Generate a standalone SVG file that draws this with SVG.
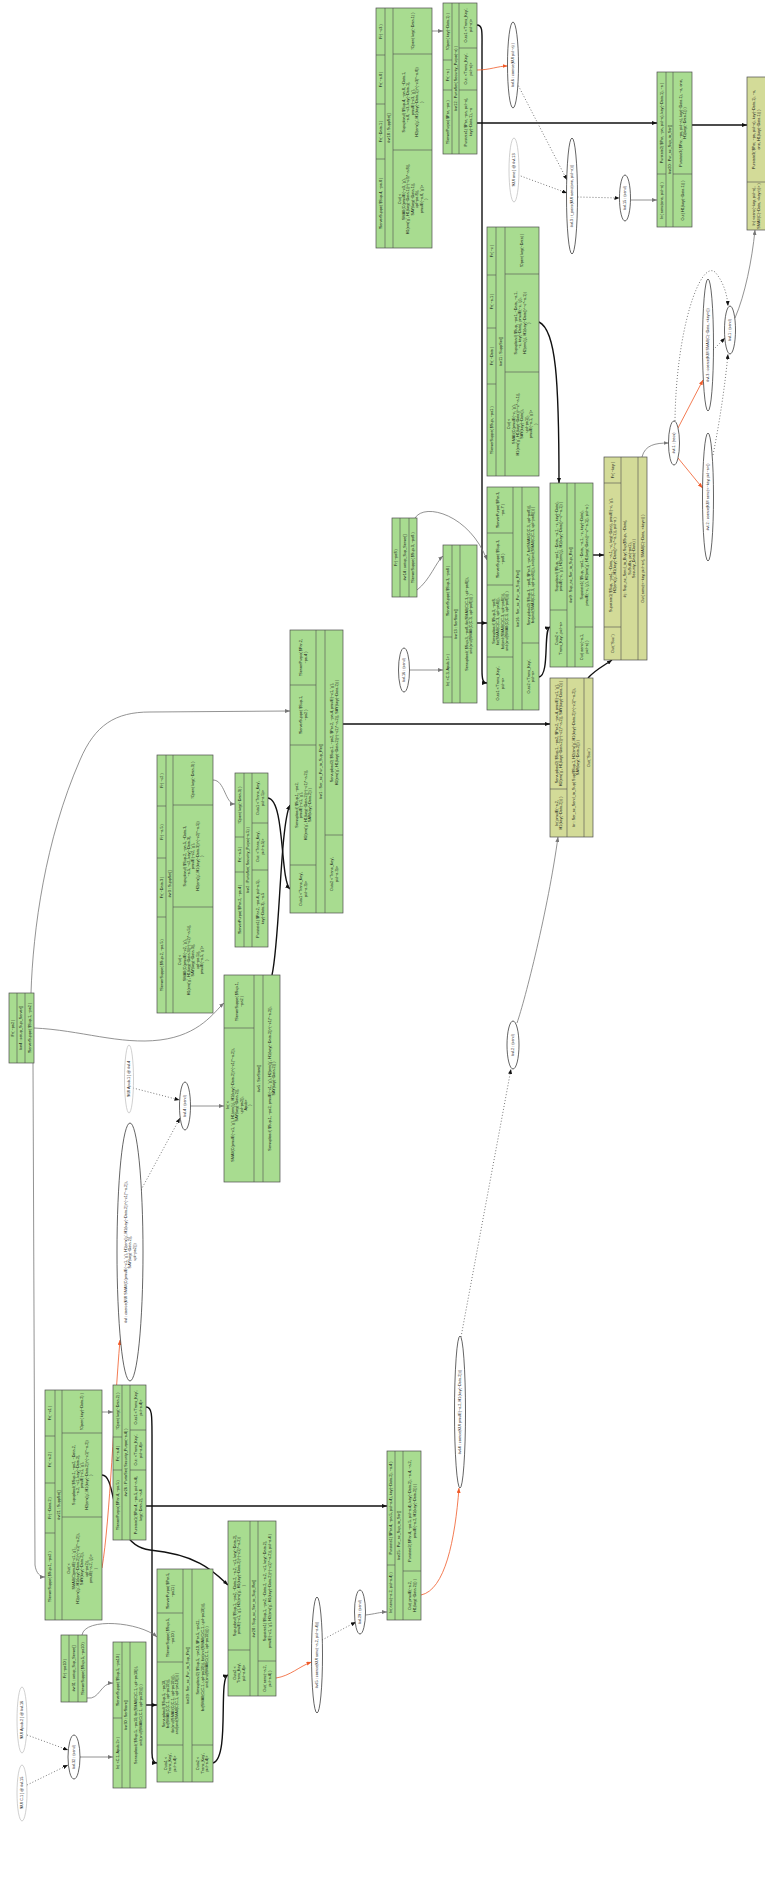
<svg xmlns="http://www.w3.org/2000/svg" width="765" height="1883" viewBox="0 0 765 1883">
<style>
.g{fill:#a8dc90;stroke:#4d4d4d;stroke-width:0.7}
.y{fill:#d3db98;stroke:#4d4d4d;stroke-width:0.7}
.d{fill:none;stroke:#4d4d4d;stroke-width:0.6}
text{font-family:"Liberation Sans","DejaVu Sans",sans-serif;font-size:3.8px;fill:#111;text-anchor:middle}
.el{fill:#fff;stroke:#222;stroke-width:0.7}
.kl{fill:#fff;stroke:#bbb;stroke-width:0.7}
.eb{fill:none;stroke:#111;stroke-width:1.4;marker-end:url(#ab)}
.eg{fill:none;stroke:#777;stroke-width:0.8;marker-end:url(#ag)}
.er{fill:none;stroke:#f05a28;stroke-width:0.8;marker-end:url(#ar)}
.ed{fill:none;stroke:#555;stroke-width:0.8;stroke-dasharray:1 2;marker-end:url(#ab)}
</style>
<defs>
<marker id="ab" viewBox="0 0 10 8" refX="10" refY="4" markerWidth="5" markerHeight="4" orient="auto" markerUnits="userSpaceOnUse"><path d="M0 0L10 4L0 8z" fill="#111"/></marker>
<marker id="ag" viewBox="0 0 10 8" refX="10" refY="4" markerWidth="5" markerHeight="4" orient="auto" markerUnits="userSpaceOnUse"><path d="M0 0L10 4L0 8z" fill="#777"/></marker>
<marker id="ar" viewBox="0 0 10 8" refX="10" refY="4" markerWidth="5" markerHeight="4" orient="auto" markerUnits="userSpaceOnUse"><path d="M0 0L10 4L0 8z" fill="#f05a28"/></marker>
</defs>
<rect width="765" height="1883" fill="#fff"/>

<g id="edges">
<path class="eb" d="M477 123L657 123"/>
<path class="eb" d="M692 125L747 125"/>
<path class="eb" d="M477 25C483 25 482 33 482 48L482 670C482 680 483 683 487 683"/>
<path class="eb" d="M539 322C556 330 559 380 559 483"/>
<path class="eb" d="M477 623L487 623"/>
<path class="eb" d="M539 677C550 675 543 629 550 627"/>
<path class="eb" d="M593 555L604 555"/>
<path class="eb" d="M588 678C595 670 605 665 612 660"/>
<path class="eb" d="M343 724L550 724"/>
<path class="eb" d="M268 798C285 800 280 880 290 889"/>
<path class="eb" d="M272 975C280 940 280 825 290 805"/>
<path class="eb" d="M146 1506L387 1506"/>
<path class="eb" d="M146 1407C152 1407 152 1415 152 1435L152 1753C152 1760 154 1763 157 1763"/>
<path class="eb" d="M102 1475C118 1475 108 1545 150 1550C200 1555 215 1573 228 1585"/>
<path class="eb" d="M146 1705L157 1705"/>
<path class="eb" d="M213 1763C230 1758 218 1678 228 1675"/>
<path class="eg" d="M432 31L443 31"/>
<path class="eg" d="M631 200L657 200"/>
<path class="eg" d="M415 518C425 502 470 515 487 560"/>
<path class="eg" d="M417 590C430 580 436 562 443 556"/>
<path class="eg" d="M409.5 670L443 670"/>
<path class="eg" d="M642 457C645 445 655 443 668.5 443"/>
<path class="eg" d="M735 318C745 295 752 260 755 230"/>
<path class="eg" d="M213 780C225 780 225 804 235 804"/>
<path class="eg" d="M31 993C33 930 45 840 80 760C95 725 115 712 150 712L290 711"/>
<path class="eg" d="M34 1028C80 1030 120 1045 160 1040C200 1035 214 1012 224 1003"/>
<path class="eg" d="M33 1063L35 1565C36 1573 40 1577 45 1577"/>
<path class="eg" d="M190.5 1106L224 1106"/>
<path class="eg" d="M102 1412L113 1412"/>
<path class="eg" d="M82 1635C85 1617 140 1622 157 1637"/>
<path class="eg" d="M87 1698C100 1700 100 1683 113 1683"/>
<path class="eg" d="M80 1757L113 1757"/>
<path class="eg" d="M365.5 1615C375 1614 380 1612 387 1612"/>
<path class="eg" d="M517 1023C525 1000 548 910 558 837"/>
<path class="er" d="M477 70C490 70 498 66 507.5 66"/>
<path class="er" d="M678 428L703 380"/>
<path class="er" d="M678 458L702.5 488"/>
<path class="er" d="M102 1568C110 1520 114 1410 120 1340"/>
<path class="er" d="M276 1678C290 1676 300 1666 311.5 1662"/>
<path class="er" d="M421 1595C445 1590 455 1540 459 1488"/>
<path class="ed" d="M517 83L567 180"/>
<path class="ed" d="M518 175L567 193"/>
<path class="ed" d="M577.5 197L619.5 198"/>
<path class="ed" d="M713 350L725 338"/>
<path class="ed" d="M713 455C720 420 725 385 728 354"/>
<path class="ed" d="M675 421C676 330 700 260 715 272C722 280 727 292 728 306"/>
<path class="ed" d="M141 1190L180 1118"/>
<path class="ed" d="M133 1088L179.5 1100"/>
<path class="ed" d="M27 1735L68 1750"/>
<path class="ed" d="M27 1785L68 1765"/>
<path class="ed" d="M322 1640L356 1622"/>
<path class="ed" d="M461 1337L511 1069"/>
</g>

<g id="vr18">
<rect class="g" x="376" y="8" width="56" height="240"/>
<path class="d" d="M385 8V248M393 8V248M376 55H385M376 104H385M376 159H385M393 54H432M393 150H432"/>
<text transform="translate(380.5 31.5) rotate(-90)" y="1.3">Fr( ~c3 )</text>
<text transform="translate(380.5 79.5) rotate(-90)" y="1.3">Fr( ~a.8 )</text>
<text transform="translate(380.5 131.5) rotate(-90)" y="1.3">Fr( ~Data.1 )</text>
<text transform="translate(380.5 203.5) rotate(-90)" y="1.3">!ServerSuppe( $Sup.4, ~pa.8 )</text>
<text transform="translate(389 128) rotate(-90)" y="1.3">#vr18 : SuppSet[]</text>
<text transform="translate(412.5 31) rotate(-90)" y="1.3">!Open( key(~Data.1) )</text>
<text transform="translate(412.5 102) rotate(-90)"><tspan x="0" y="-7.5">Supupload( $Sup.4, ~pa.8, ~Data.1,</tspan><tspan x="0" y="-3.1">~a.8, ~c3, key(~Data.1),</tspan><tspan x="0" y="1.3">pmulE(~c3, 'g'),</tspan><tspan x="0" y="5.7">H2(em('g', H1(key(~Data.1))^(~c3)*~a.8))</tspan><tspan x="0" y="10.1">)</tspan></text>
<text transform="translate(412.5 199) rotate(-90)"><tspan x="0" y="-11.9">Out( &lt;</tspan><tspan x="0" y="-7.5">SMAII(C(pmulE(~c3, 'g'),</tspan><tspan x="0" y="-3.1">H1(em('g', H1(key(~Data.1))^(~c3)*~a.8)),</tspan><tspan x="0" y="1.3">SAY(key(~Data.1)),</tspan><tspan x="0" y="5.7">upl~pa.8)),</tspan><tspan x="0" y="10.1">pmulE(~a.8, 'g')&gt;</tspan><tspan x="0" y="14.5">)</tspan></text>
</g>

<g id="vr12">
<rect class="g" x="443" y="3" width="34" height="151"/>
<path class="d" d="M452 3V154M459 3V154M443 60H452M443 90H452M459 48H477M459 90H477"/>
<text transform="translate(447.5 31.5) rotate(-90)" y="1.3">!Open( key(~Data.1) )</text>
<text transform="translate(447.5 75) rotate(-90)" y="1.3">Fr( ~a )</text>
<text transform="translate(447.5 122) rotate(-90)" y="1.3">!ServerPurpo( $Par, ~pa )</text>
<text transform="translate(455.5 78.5) rotate(-90)" y="1.3">#vr12 : PurtoSet( Security_Purpo(~a) )</text>
<text transform="translate(468 25.5) rotate(-90)"><tspan x="0" y="-0.9">Outs1 &lt;'Trans_Key',</tspan><tspan x="0" y="3.5">pid~a)&gt;</tspan></text>
<text transform="translate(468 69) rotate(-90)"><tspan x="0" y="-0.9">Out: &lt;'Trans_Key',</tspan><tspan x="0" y="3.5">pid~a)&gt;</tspan></text>
<text transform="translate(468 122) rotate(-90)"><tspan x="0" y="-0.9">Purstate1( $Par, ~pa, pid~a),</tspan><tspan x="0" y="3.5">key(~Data.1), ~a</tspan></text>
</g>

<g id="vl6"><ellipse class="el" cx="513" cy="65" rx="5.5" ry="43"/><text transform="translate(513 65) rotate(-90)" y="1.3">#vl.6 : coerce(KUI pid~a) )</text></g>
<g id="kl13"><ellipse class="kl" cx="514" cy="170" rx="5" ry="32"/><text transform="translate(514 170) rotate(-90)" y="1.3">!KUI one ] @ #vl.13</text></g>
<g id="vl3"><ellipse class="el" cx="572" cy="196" rx="5.5" ry="58"/><text transform="translate(572 196) rotate(-90)" y="1.3">#vl.3 : t_pairs(KUI aenc(one, pid~a)))</text></g>
<g id="vl15"><ellipse class="el" cx="625" cy="198" rx="5.5" ry="23"/><text transform="translate(625 198) rotate(-90)" y="1.3">#vl.15 : (send)</text></g>

<g id="vr20">
<rect class="g" x="657" y="72" width="35" height="155"/>
<path class="d" d="M666 72V227M673 72V227M657 174H666M673 174H692"/>
<text transform="translate(661.5 123) rotate(-90)" y="1.3">Purstate2( $Par, ~pa, pid~a), key(~Data.1), ~a )</text>
<text transform="translate(661.5 200.5) rotate(-90)" y="1.3">In( aenc(one, pid~a) )</text>
<text transform="translate(669.5 149.5) rotate(-90)" y="1.3">#vr20 : Pur_ac_Sup_to_Ser[]</text>
<text transform="translate(682.5 123) rotate(-90)"><tspan x="0" y="-0.9">Purstate3( $Par, ~pa, pid~a), key(~Data.1), ~a, one,</tspan><tspan x="0" y="3.5">H1(key(~Data.1)) )</tspan></text>
<text transform="translate(682.5 200.5) rotate(-90)" y="1.3">Out( H1(key(~Data.1)) )</text>
</g>

<g id="vrD">
<rect class="y" x="747" y="77" width="30" height="153"/>
<path class="d" d="M747 182H765"/>
<text transform="translate(756 129.5) rotate(-90)"><tspan x="0" y="-0.9">Purstate3( $Par, ~pa, pid~a), key(~Data.1), ~a,</tspan><tspan x="0" y="3.5">one, H1(key(~Data.1)) )</tspan></text>
<text transform="translate(756 206) rotate(-90)"><tspan x="0" y="-0.9">In( &lt;aenc(~key, pid~a),</tspan><tspan x="0" y="3.5">SMAII(C(~Data, &lt;key&gt;))&gt; )</tspan></text>
</g>

<g id="vr11">
<rect class="g" x="487" y="227" width="52" height="249"/>
<path class="d" d="M496 227V476M505 227V476M487 275H496M487 328H496M487 384H496M505 274H539M505 372H539"/>
<text transform="translate(491.5 251) rotate(-90)" y="1.3">Fr( ~c )</text>
<text transform="translate(491.5 301.5) rotate(-90)" y="1.3">Fr( ~a.1 )</text>
<text transform="translate(491.5 356) rotate(-90)" y="1.3">Fr( ~Data )</text>
<text transform="translate(491.5 430) rotate(-90)" y="1.3">!ServerSuppe( $Sup, ~pa1 )</text>
<text transform="translate(500.5 351.5) rotate(-90)" y="1.3">#vr11 : SuppSet[]</text>
<text transform="translate(522 250.5) rotate(-90)" y="1.3">!Open( key(~Data) )</text>
<text transform="translate(522 323) rotate(-90)"><tspan x="0" y="-5.3">Supupload( $Sup, ~pa1, ~Data, ~a.1,</tspan><tspan x="0" y="-0.9">~c, key(~Data), pmulE(~c, 'g'),</tspan><tspan x="0" y="3.5">H2(em('g', H1(key(~Data))^~c*~a.1))</tspan><tspan x="0" y="7.9">)</tspan></text>
<text transform="translate(522 424) rotate(-90)"><tspan x="0" y="-11.9">Out( &lt;</tspan><tspan x="0" y="-7.5">SMAII(C(pmulE(~c, 'g'),</tspan><tspan x="0" y="-3.1">H1(em('g', H1(key(~Data))^~c*~a.1)),</tspan><tspan x="0" y="1.3">SAY(key(~Data)),</tspan><tspan x="0" y="5.7">upl~pa1)),</tspan><tspan x="0" y="10.1">pmulE(~a.1, 'g')&gt;</tspan><tspan x="0" y="14.5">)</tspan></text>
</g>

<g id="vr14">
<rect class="g" x="392" y="518" width="25" height="79"/>
<path class="d" d="M400 518V597M409 518V597"/>
<text transform="translate(396 557.5) rotate(-90)" y="1.3">Fr( ~pa8 )</text>
<text transform="translate(404.5 557.5) rotate(-90)" y="1.3">#vr14 : setup_Sup_Server[]</text>
<text transform="translate(413 557.5) rotate(-90)" y="1.3">!ServerSuppe( $Sup.3, ~pa8 )</text>
</g>

<g id="vr13">
<rect class="g" x="443" y="545" width="34" height="158"/>
<path class="d" d="M452 545V703M460 545V703M443 637H452"/>
<text transform="translate(447.5 591) rotate(-90)" y="1.3">!ServerSuppe( $Sup.3, ~pa8 )</text>
<text transform="translate(447.5 670) rotate(-90)" y="1.3">In( &lt;C.3, Apub.1&gt; )</text>
<text transform="translate(456 624) rotate(-90)" y="1.3">#vr13 : SerStore[]</text>
<text transform="translate(468.5 624) rotate(-90)"><tspan x="0" y="-0.9">Servupload( $Sup.3, ~pa8, fst(SMAII(C(C.3, upl~pa8))),</tspan><tspan x="0" y="3.5">snd(snd(SMAII(C(C.3, upl~pa8)))) )</tspan></text>
</g>

<g id="vl16"><ellipse class="el" cx="404" cy="670" rx="5.5" ry="22"/><text transform="translate(404 670) rotate(-90)" y="1.3">#vl.16 : (send)</text></g>

<g id="vr16">
<rect class="g" x="487" y="487" width="52" height="223"/>
<path class="d" d="M513 487V710M522 487V710M487 533H513M487 585H513M487 657H513M522 643H539"/>
<text transform="translate(500 510) rotate(-90)"><tspan x="0" y="-0.9">!ServerPurpo( $Par.3,</tspan><tspan x="0" y="3.5">~pa.7 )</tspan></text>
<text transform="translate(500 559) rotate(-90)"><tspan x="0" y="-0.9">!ServerSuppe( $Sup.3,</tspan><tspan x="0" y="3.5">~pa8 )</tspan></text>
<text transform="translate(500 621) rotate(-90)"><tspan x="0" y="-5.3">Servupload( $Sup.3, ~pa8,</tspan><tspan x="0" y="-0.9">fst(SMAII(C(C.3, upl~pa8))),</tspan><tspan x="0" y="3.5">fst(snd(SMAII(C(C.3, upl~pa8)))),</tspan><tspan x="0" y="7.9">snd(snd(SMAII(C(C.3, upl~pa8)))) )</tspan></text>
<text transform="translate(500 683.5) rotate(-90)"><tspan x="0" y="-0.9">Outs1 &lt;'Trans_Key',</tspan><tspan x="0" y="3.5">pid~a&gt;</tspan></text>
<text transform="translate(517.5 598.5) rotate(-90)" y="1.3">#vr16 : Ser_ac_Pur_to_Sup_Ret[]</text>
<text transform="translate(530.5 565) rotate(-90)"><tspan x="0" y="-0.9">Servupload2( $Sup.3, ~pa8, $Par.3, ~pa.7, fst(SMAII(C(C.3, upl~pa8))),</tspan><tspan x="0" y="3.5">fst(snd(SMAII(C(C.3, upl~pa8)))), snd(snd(SMAII(C(C.3, upl~pa8)))) )</tspan></text>
<text transform="translate(530.5 676.5) rotate(-90)"><tspan x="0" y="-0.9">Outs2 &lt;'Trans_Key',</tspan><tspan x="0" y="3.5">pid~a&gt;</tspan></text>
</g>

<g id="vr9">
<rect class="g" x="550" y="483" width="43" height="184"/>
<path class="d" d="M567 483V667M575 483V667M550 610H567M575 627H593"/>
<text transform="translate(558.5 546.5) rotate(-90)"><tspan x="0" y="-0.9">Supupload( $Sup, ~pa1, ~Data, ~a.1, ~c, key(~Data),</tspan><tspan x="0" y="3.5">pmulE(~c, 'g'), H2(em('g', H1(key(~Data))^~c*~a.1)) )</tspan></text>
<text transform="translate(558.5 638.5) rotate(-90)"><tspan x="0" y="-0.9">Outs2 &lt;</tspan><tspan x="0" y="3.5">'Trans_Key', pid~a&gt;</tspan></text>
<text transform="translate(571 575) rotate(-90)" y="1.3">#vr9 : Sup_ac_Ser_to_Sup_Ret[]</text>
<text transform="translate(584 555) rotate(-90)"><tspan x="0" y="-0.9">Supstate1( $Sup, ~pa1, ~Data, ~a.1, ~c, key(~Data),</tspan><tspan x="0" y="3.5">pmulE(~c, 'g'), H2(em('g', H1(key(~Data))^~c*~a.1)), pid~a )</tspan></text>
<text transform="translate(584 647) rotate(-90)"><tspan x="0" y="-0.9">Out( aenc(~a.1,</tspan><tspan x="0" y="3.5">pid~a) )</tspan></text>
</g>

<g id="vrY1">
<rect class="y" x="604" y="457" width="43" height="203"/>
<path class="d" d="M621 457V660M638 457V660M604 483H621M604 627H621"/>
<text transform="translate(612.5 470) rotate(-90)" y="1.3">Fr( ~key )</text>
<text transform="translate(612.5 555) rotate(-90)"><tspan x="0" y="-0.9">Supstate1( $Sup, ~pa1, ~Data, ~a.1, ~c, key(~Data), pmulE(~c, 'g'),</tspan><tspan x="0" y="3.5">H2(em('g', H1(key(~Data))^~c*~a.1)), pid~a )</tspan></text>
<text transform="translate(612.5 643.5) rotate(-90)" y="1.3">Out( 'Suc' )</text>
<text transform="translate(629.5 558.5) rotate(-90)"><tspan x="0" y="-3.1">#j : Sup_ac_Send_to_Buy( Sup($Sup, ~Data),</tspan><tspan x="0" y="1.3">SuSuffix, pa(~pa1),</tspan><tspan x="0" y="5.7">Security_Data(~Data) )</tspan></text>
<text transform="translate(642.5 558.5) rotate(-90)" y="1.3">Out( aenc(&lt;~key, pid~a&gt;), SMAII(C(~Data, &lt;key&gt;)) )</text>
</g>

<g id="vrY2">
<rect class="y" x="550" y="678" width="43" height="159"/>
<path class="d" d="M567 678V837M584 678V837M550 789H567"/>
<text transform="translate(558.5 733.5) rotate(-90)"><tspan x="0" y="-0.9">Servupload2( $Sup.1, ~pa2, $Par.2, ~pa.4, pmulE(~c1, 'g'),</tspan><tspan x="0" y="3.5">H2(em('g', H1(key(~Data.2))^(~c1)*~a.2)), SAY(key(~Data.2)) )</tspan></text>
<text transform="translate(558.5 813) rotate(-90)"><tspan x="0" y="-0.9">In( pmulE(~a.2,</tspan><tspan x="0" y="3.5">H1(key(~Data.2))) )</tspan></text>
<text transform="translate(575.5 757.5) rotate(-90)"><tspan x="0" y="-0.9">#r : Ser_ac_Send_to_Sup( Sup($Sup.1, H2(em('g', H1(key(~Data.2))^(~c1)*~a.2)),</tspan><tspan x="0" y="3.5">SAY(key(~Data.2))) )</tspan></text>
<text transform="translate(588.5 757.5) rotate(-90)" y="1.3">Out( 'Suc' )</text>
</g>

<g id="vl1r"><ellipse class="el" cx="674" cy="443" rx="5.5" ry="22"/><text transform="translate(674 443) rotate(-90)" y="1.3">#vl.1 : (recv)</text></g>
<g id="vl3b"><ellipse class="el" cx="708" cy="345" rx="5.5" ry="66"/><text transform="translate(708 345) rotate(-90)" y="1.3">#vl.3 : coerce(KUI SMAII(C(~Data, &lt;key&gt;)))</text></g>
<g id="vl2b"><ellipse class="el" cx="708" cy="497" rx="5.5" ry="64"/><text transform="translate(708 497) rotate(-90)" y="1.3">#vl.2 : coerce(KUI aenc(&lt;~key, pid~a&gt;))</text></g>
<g id="vl1s"><ellipse class="el" cx="730" cy="330" rx="5.5" ry="24"/><text transform="translate(730 330) rotate(-90)" y="1.3">#vl.1 : (send)</text></g>

<g id="vr3">
<rect class="g" x="157" y="755" width="56" height="258"/>
<path class="d" d="M166 755V1013M173 755V1013M157 806H166M157 858H166M157 917H166M173 805H213M173 907H213"/>
<text transform="translate(161.5 780.5) rotate(-90)" y="1.3">Fr( ~c2 )</text>
<text transform="translate(161.5 832) rotate(-90)" y="1.3">Fr( ~a.5 )</text>
<text transform="translate(161.5 887.5) rotate(-90)" y="1.3">Fr( ~Data.3 )</text>
<text transform="translate(161.5 965) rotate(-90)" y="1.3">!ServerSuppe( $Sup.2, ~pa.5 )</text>
<text transform="translate(169.5 884) rotate(-90)" y="1.3">#vr3 : SuppSet[]</text>
<text transform="translate(193 780) rotate(-90)" y="1.3">!Open( key(~Data.3) )</text>
<text transform="translate(193 856) rotate(-90)"><tspan x="0" y="-7.5">Supupload( $Sup.2, ~pa.5, ~Data.3,</tspan><tspan x="0" y="-3.1">~a.5, ~c2, key(~Data.3),</tspan><tspan x="0" y="1.3">pmulE(~c2, 'g'),</tspan><tspan x="0" y="5.7">H2(em('g', H1(key(~Data.3))^(~c2)*~a.5))</tspan><tspan x="0" y="10.1">)</tspan></text>
<text transform="translate(193 960) rotate(-90)"><tspan x="0" y="-11.9">Out( &lt;</tspan><tspan x="0" y="-7.5">SMAII(C(pmulE(~c2, 'g'),</tspan><tspan x="0" y="-3.1">H1(em('g', H1(key(~Data.3))^(~c2)*~a.5)),</tspan><tspan x="0" y="1.3">SAY(key(~Data.3)),</tspan><tspan x="0" y="5.7">upl~pa.5)),</tspan><tspan x="0" y="10.1">pmulE(~a.5, 'g')&gt;</tspan><tspan x="0" y="14.5">)</tspan></text>
</g>

<g id="vr2">
<rect class="g" x="235" y="773" width="33" height="174"/>
<path class="d" d="M244 773V947M252 773V947M235 837H244M235 872H244M252 823H268M252 870H268"/>
<text transform="translate(239.5 805) rotate(-90)" y="1.3">!Open( key(~Data.3) )</text>
<text transform="translate(239.5 854.5) rotate(-90)" y="1.3">Fr( ~a.5 )</text>
<text transform="translate(239.5 909.5) rotate(-90)" y="1.3">!ServerPurpo( $Par.2, ~pa.4 )</text>
<text transform="translate(248 860) rotate(-90)" y="1.3">#vr2 : PurtoSet( Security_Purpo(~a.5) )</text>
<text transform="translate(260 798) rotate(-90)"><tspan x="0" y="-0.9">Outs1 &lt;'Trans_Key',</tspan><tspan x="0" y="3.5">pid~a.5)&gt;</tspan></text>
<text transform="translate(260 846.5) rotate(-90)"><tspan x="0" y="-0.9">Out: &lt;'Trans_Key',</tspan><tspan x="0" y="3.5">pid~a.5)&gt;</tspan></text>
<text transform="translate(260 908.5) rotate(-90)"><tspan x="0" y="-0.9">Purstate1( $Par.2, ~pa.4, pid~a.5),</tspan><tspan x="0" y="3.5">key(~Data.3), ~a.5</tspan></text>
</g>

<g id="vr1">
<rect class="g" x="290" y="630" width="53" height="283"/>
<path class="d" d="M316 630V913M325 630V913M290 685H316M290 745H316M290 865H316M325 835H343"/>
<text transform="translate(303 657.5) rotate(-90)"><tspan x="0" y="-0.9">!ServerPurpo( $Par.2,</tspan><tspan x="0" y="3.5">~pa.4 )</tspan></text>
<text transform="translate(303 715) rotate(-90)"><tspan x="0" y="-0.9">!ServerSuppe( $Sup.1,</tspan><tspan x="0" y="3.5">~pa2 )</tspan></text>
<text transform="translate(303 805) rotate(-90)"><tspan x="0" y="-5.3">Servupload( $Sup.1, ~pa2,</tspan><tspan x="0" y="-0.9">pmulE(~c1, 'g'),</tspan><tspan x="0" y="3.5">H2(em('g', H1(key(~Data.2))^(~c1)*~a.2)),</tspan><tspan x="0" y="7.9">SAY(key(~Data.2)) )</tspan></text>
<text transform="translate(303 889) rotate(-90)"><tspan x="0" y="-0.9">Outs1 &lt;'Trans_Key',</tspan><tspan x="0" y="3.5">pid~a.3)&gt;</tspan></text>
<text transform="translate(320.5 771.5) rotate(-90)" y="1.3">#vr1 : Ser_ac_Pur_to_Sup_Ret[]</text>
<text transform="translate(334 732.5) rotate(-90)"><tspan x="0" y="-0.9">Servupload2( $Sup.1, ~pa2, $Par.2, ~pa.4, pmulE(~c1, 'g'),</tspan><tspan x="0" y="3.5">H2(em('g', H1(key(~Data.2))^(~c1)*~a.2)), SAY(key(~Data.2)) )</tspan></text>
<text transform="translate(334 874) rotate(-90)"><tspan x="0" y="-0.9">Outs2 &lt;'Trans_Key',</tspan><tspan x="0" y="3.5">pid~a.3)&gt;</tspan></text>
</g>

<g id="vr4">
<rect class="g" x="9" y="993" width="25" height="70"/>
<path class="d" d="M17 993V1063M25 993V1063"/>
<text transform="translate(13 1028) rotate(-90)" y="1.3">Fr( ~pa2 )</text>
<text transform="translate(21 1028) rotate(-90)" y="1.3">#vr4 : setup_Sup_Server[]</text>
<text transform="translate(29.5 1028) rotate(-90)" y="1.3">!ServerSuppe( $Sup.1, ~pa2 )</text>
</g>

<g id="klapub"><ellipse class="kl" cx="129" cy="1079" rx="4.5" ry="34"/><text transform="translate(129 1079) rotate(-90)" y="1.3">!KUI Apub.1 ] @ #vl.4</text></g>
<g id="vlbig"><ellipse class="el" cx="130" cy="1252" rx="13" ry="129"/><text transform="translate(130 1252) rotate(-90)"><tspan x="0" y="-3.1">#vl : coerce(KUI SMAII(C(pmulE(~c1, 'g'), H1(em('g', H1(key(~Data.2))^(~c1)*~a.2)),</tspan><tspan x="0" y="1.3">SAY(key(~Data.2)),</tspan><tspan x="0" y="5.7">upl~pa2)))</tspan></text></g>
<g id="vl4"><ellipse class="el" cx="185" cy="1106" rx="5.5" ry="24"/><text transform="translate(185 1106) rotate(-90)" y="1.3">#vl.4 : (send)</text></g>

<g id="vr5">
<rect class="g" x="224" y="975" width="56" height="207"/>
<path class="d" d="M254 975V1182M263 975V1182M224 1028H254"/>
<text transform="translate(239 1001.5) rotate(-90)"><tspan x="0" y="-0.9">!ServerSuppe( $Sup.1,</tspan><tspan x="0" y="3.5">~pa2 )</tspan></text>
<text transform="translate(239 1105) rotate(-90)"><tspan x="0" y="-9.7">In( &lt;</tspan><tspan x="0" y="-5.3">SMAII(C(pmulE(~c1, 'g'), H1(em('g', H1(key(~Data.2))^(~c1)*~a.2)),</tspan><tspan x="0" y="-0.9">SAY(key(~Data.2)),</tspan><tspan x="0" y="3.5">upl~pa2)),</tspan><tspan x="0" y="7.9">Apub&gt;</tspan><tspan x="0" y="12.3">)</tspan></text>
<text transform="translate(258.5 1078.5) rotate(-90)" y="1.3">#vr5 : SerStore[]</text>
<text transform="translate(271.5 1078.5) rotate(-90)"><tspan x="0" y="-0.9">Servupload( $Sup.1, ~pa2, pmulE(~c1, 'g'), H2(em('g', H1(key(~Data.2))^(~c1)*~a.2)),</tspan><tspan x="0" y="3.5">SAY(key(~Data.2)) )</tspan></text>
</g>

<g id="vr21">
<rect class="g" x="45" y="1390" width="57" height="230"/>
<path class="d" d="M55 1390V1620M62 1390V1620M45 1436H55M45 1483H55M45 1533H55M62 1433H102M62 1517H102"/>
<text transform="translate(50 1413) rotate(-90)" y="1.3">Fr( ~c1 )</text>
<text transform="translate(50 1459.5) rotate(-90)" y="1.3">Fr( ~a.2 )</text>
<text transform="translate(50 1508) rotate(-90)" y="1.3">Fr( ~Data.2 )</text>
<text transform="translate(50 1576.5) rotate(-90)" y="1.3">!ServerSuppe( $Sup.1, ~pa2 )</text>
<text transform="translate(58.5 1505) rotate(-90)" y="1.3">#vr21 : SuppSet[]</text>
<text transform="translate(82 1411.5) rotate(-90)" y="1.3">!Open( key(~Data.2) )</text>
<text transform="translate(82 1475) rotate(-90)"><tspan x="0" y="-7.5">Supupload( $Sup.1, ~pa2, ~Data.2,</tspan><tspan x="0" y="-3.1">~a.2, ~c1, key(~Data.2),</tspan><tspan x="0" y="1.3">pmulE(~c1, 'g'),</tspan><tspan x="0" y="5.7">H2(em('g', H1(key(~Data.2))^(~c1)*~a.2))</tspan><tspan x="0" y="10.1">)</tspan></text>
<text transform="translate(82 1568.5) rotate(-90)"><tspan x="0" y="-11.9">Out( &lt;</tspan><tspan x="0" y="-7.5">SMAII(C(pmulE(~c1, 'g'),</tspan><tspan x="0" y="-3.1">H1(em('g', H1(key(~Data.2))^(~c1)*~a.2)),</tspan><tspan x="0" y="1.3">SAY(key(~Data.2)),</tspan><tspan x="0" y="5.7">upl~pa2)),</tspan><tspan x="0" y="10.1">pmulE(~a.2, 'g')&gt;</tspan><tspan x="0" y="14.5">)</tspan></text>
</g>

<g id="vr26">
<rect class="g" x="113" y="1385" width="33" height="155"/>
<path class="d" d="M122 1385V1540M130 1385V1540M113 1437H122M113 1470H122M130 1430H146M130 1470H146"/>
<text transform="translate(117.5 1411) rotate(-90)" y="1.3">!Open( key(~Data.2) )</text>
<text transform="translate(117.5 1453.5) rotate(-90)" y="1.3">Fr( ~a.4 )</text>
<text transform="translate(117.5 1505) rotate(-90)" y="1.3">!ServerPurpo( $Par.4, ~pa.5 )</text>
<text transform="translate(126 1462.5) rotate(-90)" y="1.3">#vr26 : PurtoSet( Security_Purpo(~a.4) )</text>
<text transform="translate(138 1407.5) rotate(-90)"><tspan x="0" y="-0.9">Outs1 &lt;'Trans_Key',</tspan><tspan x="0" y="3.5">pid~a.4)&gt;</tspan></text>
<text transform="translate(138 1450) rotate(-90)"><tspan x="0" y="-0.9">Out: &lt;'Trans_Key',</tspan><tspan x="0" y="3.5">pid~a.4)&gt;</tspan></text>
<text transform="translate(138 1505) rotate(-90)"><tspan x="0" y="-0.9">Purstate1( $Par.4, ~pa.5, pid~a.4),</tspan><tspan x="0" y="3.5">key(~Data.2), ~a.4</tspan></text>
</g>

<g id="vr31">
<rect class="g" x="61" y="1635" width="26" height="67"/>
<path class="d" d="M69 1635V1702M78 1635V1702"/>
<text transform="translate(65 1668.5) rotate(-90)" y="1.3">Fr( ~pa10 )</text>
<text transform="translate(73.5 1668.5) rotate(-90)" y="1.3">#vr31 : setup_Sup_Server[]</text>
<text transform="translate(82.5 1668.5) rotate(-90)" y="1.3">!ServerSuppe( $Sup.5, ~pa10 )</text>
</g>

<g id="vr30">
<rect class="g" x="113" y="1642" width="33" height="146"/>
<path class="d" d="M122 1642V1788M130 1642V1788M113 1718H122"/>
<text transform="translate(117.5 1680) rotate(-90)" y="1.3">!ServerSuppe( $Sup.5, ~pa10 )</text>
<text transform="translate(117.5 1753) rotate(-90)" y="1.3">In( &lt;C.1, Apub.2&gt; )</text>
<text transform="translate(126 1715) rotate(-90)" y="1.3">#vr30 : SerStore[]</text>
<text transform="translate(138 1715) rotate(-90)"><tspan x="0" y="-0.9">Servupload( $Sup.5, ~pa10, fst(SMAII(C(C.1, upl~pa10))),</tspan><tspan x="0" y="3.5">snd(snd(SMAII(C(C.1, upl~pa10)))) )</tspan></text>
</g>

<g id="vl32"><ellipse class="el" cx="74" cy="1757" rx="6" ry="22"/><text transform="translate(74 1757) rotate(-90)" y="1.3">#vl.32 : (send)</text></g>
<g id="klapub2"><ellipse class="kl" cx="22" cy="1720" rx="5" ry="33"/><text transform="translate(22 1720) rotate(-90)" y="1.3">!KUI Apub.2 ] @ #vl.16</text></g>
<g id="klc1"><ellipse class="kl" cx="22" cy="1793" rx="5" ry="28"/><text transform="translate(22 1793) rotate(-90)" y="1.3">!KUI C.1 ] @ #vl.15</text></g>

<g id="vr29">
<rect class="g" x="157" y="1569" width="56" height="213"/>
<path class="d" d="M183 1569V1782M192 1569V1782M157 1613H183M157 1662H183M157 1745H183M192 1745H213"/>
<text transform="translate(170 1591) rotate(-90)"><tspan x="0" y="-0.9">!ServerPurpo( $Par.5,</tspan><tspan x="0" y="3.5">~pa11 )</tspan></text>
<text transform="translate(170 1637.5) rotate(-90)"><tspan x="0" y="-0.9">!ServerSuppe( $Sup.5,</tspan><tspan x="0" y="3.5">~pa10 )</tspan></text>
<text transform="translate(170 1703.5) rotate(-90)"><tspan x="0" y="-5.3">Servupload( $Sup.5, ~pa10,</tspan><tspan x="0" y="-0.9">fst(SMAII(C(C.1, upl~pa10))),</tspan><tspan x="0" y="3.5">fst(snd(SMAII(C(C.1, upl~pa10)))),</tspan><tspan x="0" y="7.9">snd(snd(SMAII(C(C.1, upl~pa10)))) )</tspan></text>
<text transform="translate(170 1763.5) rotate(-90)"><tspan x="0" y="-3.1">Outs1 &lt;</tspan><tspan x="0" y="1.3">'Trans_Key',</tspan><tspan x="0" y="5.7">pid~a.4)&gt;</tspan></text>
<text transform="translate(187.5 1675.5) rotate(-90)" y="1.3">#vr29 : Ser_ac_Pur_to_Sup_Ret[]</text>
<text transform="translate(202.5 1657) rotate(-90)"><tspan x="0" y="-3.1">Servupload2( $Sup.5, ~pa10, $Par.5, ~pa11,</tspan><tspan x="0" y="1.3">fst(SMAII(C(C.1, upl~pa10))), fst(snd(SMAII(C(C.1, upl~pa10)))),</tspan><tspan x="0" y="5.7">snd(snd(SMAII(C(C.1, upl~pa10)))) )</tspan></text>
<text transform="translate(202.5 1763.5) rotate(-90)"><tspan x="0" y="-3.1">Outs2 &lt;</tspan><tspan x="0" y="1.3">'Trans_Key',</tspan><tspan x="0" y="5.7">pid~a.4)&gt;</tspan></text>
</g>

<g id="vr28">
<rect class="g" x="228" y="1521" width="48" height="175"/>
<path class="d" d="M250 1521V1696M258 1521V1696M228 1650H250M258 1661H276"/>
<text transform="translate(239 1585.5) rotate(-90)"><tspan x="0" y="-3.1">Supupload( $Sup.1, ~pa2, ~Data.2, ~a.2, ~c1, key(~Data.2),</tspan><tspan x="0" y="1.3">pmulE(~c1, 'g'), H2(em('g', H1(key(~Data.2))^(~c1)*~a.2))</tspan><tspan x="0" y="5.7">)</tspan></text>
<text transform="translate(239 1673) rotate(-90)"><tspan x="0" y="-3.1">Outs2 &lt;</tspan><tspan x="0" y="1.3">'Trans_Key',</tspan><tspan x="0" y="5.7">pid~a.4)&gt;</tspan></text>
<text transform="translate(254 1608.5) rotate(-90)" y="1.3">#vr28 : Sup_ac_Ser_to_Sup_Ret[]</text>
<text transform="translate(267 1591) rotate(-90)"><tspan x="0" y="-0.9">Supstate1( $Sup.1, ~pa2, ~Data.2, ~a.2, ~c1, key(~Data.2),</tspan><tspan x="0" y="3.5">pmulE(~c1, 'g'), H2(em('g', H1(key(~Data.2))^(~c1)*~a.2)), pid~a.4 )</tspan></text>
<text transform="translate(267 1678.5) rotate(-90)"><tspan x="0" y="-0.9">Out( aenc(~a.2,</tspan><tspan x="0" y="3.5">pid~a.4) )</tspan></text>
</g>

<g id="vl5"><ellipse class="el" cx="317" cy="1655" rx="5.5" ry="58"/><text transform="translate(317 1655) rotate(-90)" y="1.3">#vl.5 : coerce(KUI aenc(~a.2, pid~a.4)))</text></g>
<g id="vl29"><ellipse class="el" cx="360" cy="1612" rx="5.5" ry="22"/><text transform="translate(360 1612) rotate(-90)" y="1.3">#vl.29 : (send)</text></g>

<g id="vr25">
<rect class="g" x="387" y="1451" width="34" height="169"/>
<path class="d" d="M395 1451V1620M403 1451V1620M387 1565H395M403 1571H421"/>
<text transform="translate(391 1508) rotate(-90)" y="1.3">Purstate1( $Par.4, ~pa.5, pid~a.4), key(~Data.2), ~a.4 )</text>
<text transform="translate(391 1592.5) rotate(-90)" y="1.3">In( aenc(~a.2, pid~a.4) )</text>
<text transform="translate(399 1535.5) rotate(-90)" y="1.3">#vr25 : Pur_ac_Sup_to_Ser[]</text>
<text transform="translate(412 1511) rotate(-90)"><tspan x="0" y="-0.9">Purstate2( $Par.4, ~pa.5, pid~a.4), key(~Data.2), ~a.4, ~a.2,</tspan><tspan x="0" y="3.5">pmulE(~a.2, H1(key(~Data.2))) )</tspan></text>
<text transform="translate(412 1595.5) rotate(-90)"><tspan x="0" y="-0.9">Out( pmulE(~a.2,</tspan><tspan x="0" y="3.5">H1(key(~Data.2))) )</tspan></text>
</g>

<g id="vl4b"><ellipse class="el" cx="460" cy="1412" rx="5.5" ry="76"/><text transform="translate(460 1412) rotate(-90)" y="1.3">#vl.4 : coerce(KUI pmulE(~a.2, H1(key(~Data.2))))</text></g>
<g id="vl2s"><ellipse class="el" cx="513" cy="1045" rx="6" ry="24"/><text transform="translate(513 1045) rotate(-90)" y="1.3">#vl.2 : (send)</text></g>
</svg>
